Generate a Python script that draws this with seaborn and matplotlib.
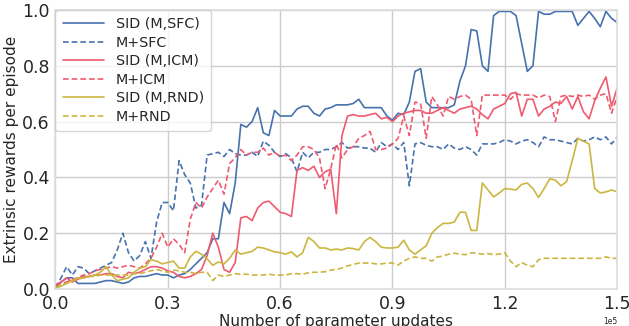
import numpy as np
import pandas as pd
import matplotlib
matplotlib.use("Agg")
import matplotlib.pyplot as plt
import seaborn as sns

# Evaluation every 1500 parameter updates, 0 .. 150000
updates = np.arange(0, 150001, 1500)

sid_sfc = [0.0, 0.025, 0.04, 0.04, 0.02, 0.02, 0.02, 0.02, 0.025, 0.03,
           0.03, 0.025, 0.02, 0.025, 0.04, 0.045, 0.045, 0.05, 0.055, 0.05,
           0.05, 0.04, 0.05, 0.055, 0.07, 0.09, 0.11, 0.13, 0.18, 0.18,
           0.31, 0.27, 0.38, 0.59, 0.58, 0.60, 0.65, 0.56, 0.55, 0.64,
           0.62, 0.62, 0.62, 0.645, 0.655, 0.655, 0.63, 0.62, 0.645, 0.65,
           0.66, 0.66, 0.66, 0.665, 0.68, 0.65, 0.65, 0.65, 0.65, 0.62,
           0.605, 0.63, 0.625, 0.67, 0.78, 0.79, 0.67, 0.65, 0.65, 0.65,
           0.65, 0.66, 0.745, 0.80, 0.93, 0.925, 0.80, 0.78, 0.98, 0.995,
           0.995, 0.995, 0.98, 0.88, 0.78, 0.80, 0.995, 0.985, 0.985, 0.995,
           0.995, 0.995, 0.995, 0.945, 0.97, 0.995, 0.97, 0.94, 0.995, 0.97,
           0.955]

m_sfc = [0.005, 0.04, 0.08, 0.05, 0.08, 0.075, 0.055, 0.065, 0.075, 0.085,
         0.095, 0.14, 0.20, 0.13, 0.10, 0.12, 0.17, 0.11, 0.24, 0.31,
         0.31, 0.28, 0.46, 0.41, 0.38, 0.29, 0.30, 0.48, 0.485, 0.49,
         0.475, 0.50, 0.485, 0.48, 0.48, 0.49, 0.475, 0.53, 0.515, 0.49,
         0.475, 0.485, 0.47, 0.42, 0.49, 0.47, 0.49, 0.49, 0.50, 0.50,
         0.51, 0.525, 0.505, 0.51, 0.51, 0.505, 0.505, 0.49, 0.525, 0.51,
         0.52, 0.50, 0.525, 0.37, 0.52, 0.525, 0.515, 0.51, 0.51, 0.50,
         0.52, 0.505, 0.50, 0.51, 0.50, 0.48, 0.52, 0.52, 0.52, 0.525,
         0.535, 0.53, 0.52, 0.53, 0.535, 0.525, 0.51, 0.545, 0.535, 0.535,
         0.53, 0.525, 0.52, 0.54, 0.53, 0.535, 0.545, 0.535, 0.545, 0.52,
         0.545]

sid_icm = [0.015, 0.025, 0.04, 0.025, 0.035, 0.045, 0.045, 0.05, 0.05, 0.055,
           0.055, 0.045, 0.04, 0.06, 0.055, 0.06, 0.07, 0.08, 0.08, 0.075,
           0.065, 0.06, 0.045, 0.04, 0.045, 0.055, 0.07, 0.12, 0.20, 0.15,
           0.07, 0.06, 0.095, 0.255, 0.26, 0.245, 0.29, 0.31, 0.315, 0.295,
           0.275, 0.27, 0.26, 0.425, 0.435, 0.425, 0.44, 0.40, 0.42, 0.43,
           0.27, 0.55, 0.62, 0.625, 0.62, 0.62, 0.625, 0.63, 0.61, 0.615,
           0.60, 0.62, 0.63, 0.635, 0.64, 0.64, 0.63, 0.63, 0.64, 0.65,
           0.64, 0.63, 0.645, 0.65, 0.655, 0.645, 0.625, 0.61, 0.645, 0.655,
           0.665, 0.70, 0.705, 0.62, 0.68, 0.68, 0.62, 0.645, 0.655, 0.67,
           0.665, 0.69, 0.645, 0.69, 0.635, 0.61, 0.675, 0.72, 0.76, 0.655,
           0.72]

m_icm = [0.015, 0.02, 0.025, 0.035, 0.04, 0.05, 0.055, 0.065, 0.07, 0.075,
         0.08, 0.075, 0.08, 0.085, 0.08, 0.075, 0.09, 0.11, 0.15, 0.20,
         0.15, 0.18, 0.16, 0.13, 0.25, 0.31, 0.29, 0.33, 0.36, 0.39,
         0.34, 0.45, 0.47, 0.50, 0.48, 0.49, 0.49, 0.505, 0.48, 0.49,
         0.475, 0.48, 0.46, 0.48, 0.51, 0.51, 0.50, 0.47, 0.36, 0.43,
         0.52, 0.47, 0.50, 0.51, 0.54, 0.55, 0.565, 0.50, 0.50, 0.505,
         0.52, 0.54, 0.62, 0.55, 0.67, 0.665, 0.54, 0.69, 0.66, 0.62,
         0.69, 0.68, 0.69, 0.695, 0.68, 0.55, 0.695, 0.695, 0.695, 0.695,
         0.695, 0.68, 0.70, 0.695, 0.695, 0.695, 0.685, 0.695, 0.69, 0.60,
         0.69, 0.695, 0.69, 0.695, 0.69, 0.695, 0.68, 0.695, 0.70, 0.63,
         0.69]

sid_rnd = [0.003, 0.01, 0.02, 0.03, 0.04, 0.04, 0.045, 0.05, 0.06, 0.08,
           0.05, 0.03, 0.035, 0.04, 0.06, 0.075, 0.08, 0.105, 0.10, 0.09,
           0.095, 0.10, 0.075, 0.075, 0.115, 0.135, 0.125, 0.108, 0.085, 0.097,
           0.09, 0.11, 0.14, 0.125, 0.13, 0.135, 0.15, 0.147, 0.14, 0.133,
           0.13, 0.125, 0.133, 0.115, 0.13, 0.185, 0.17, 0.147, 0.147, 0.14,
           0.143, 0.14, 0.147, 0.145, 0.14, 0.17, 0.185, 0.17, 0.15, 0.147,
           0.147, 0.15, 0.175, 0.14, 0.125, 0.14, 0.155, 0.20, 0.22, 0.235,
           0.235, 0.24, 0.275, 0.275, 0.21, 0.21, 0.38, 0.355, 0.33, 0.344,
           0.36, 0.358, 0.355, 0.375, 0.38, 0.36, 0.328, 0.36, 0.395, 0.39,
           0.37, 0.385, 0.46, 0.54, 0.53, 0.52, 0.36, 0.344, 0.348, 0.355,
           0.348]

m_rnd = [0.005, 0.015, 0.02, 0.03, 0.035, 0.04, 0.045, 0.045, 0.05, 0.05,
         0.05, 0.05, 0.05, 0.05, 0.055, 0.055, 0.06, 0.065, 0.07, 0.065,
         0.06, 0.068, 0.065, 0.06, 0.06, 0.055, 0.06, 0.06, 0.03, 0.05,
         0.045, 0.05, 0.055, 0.053, 0.053, 0.05, 0.05, 0.05, 0.053, 0.05,
         0.05, 0.05, 0.055, 0.055, 0.053, 0.058, 0.06, 0.06, 0.062, 0.068,
         0.07, 0.075, 0.083, 0.088, 0.093, 0.093, 0.093, 0.09, 0.09, 0.093,
         0.093, 0.086, 0.10, 0.11, 0.115, 0.11, 0.11, 0.10, 0.115, 0.118,
         0.125, 0.128, 0.125, 0.123, 0.13, 0.128, 0.125, 0.127, 0.123, 0.125,
         0.13, 0.10, 0.08, 0.095, 0.085, 0.08, 0.105, 0.11, 0.11, 0.11,
         0.11, 0.11, 0.11, 0.11, 0.11, 0.11, 0.11, 0.11, 0.115, 0.11,
         0.11]

methods = ["SID (M,SFC)", "M+SFC", "SID (M,ICM)", "M+ICM", "SID (M,RND)", "M+RND"]
series = [sid_sfc, m_sfc, sid_icm, m_icm, sid_rnd, m_rnd]

blue, red, yellow = "#4672ad", "#ef5a6f", "#cbb63f"
palette = dict(zip(methods, [blue, blue, red, red, yellow, yellow]))
dashes = {m: ("" if m.startswith("SID") else (3.4, 1.8)) for m in methods}

df = pd.concat(
    [pd.DataFrame({"updates": updates, "reward": vals, "method": name})
     for name, vals in zip(methods, series)],
    ignore_index=True,
)

sns.set_theme(style="whitegrid")
plt.rcParams["font.family"] = ["DejaVu Sans"]

fig = plt.figure(figsize=(6.29, 3.26), dpi=100)
ax = fig.add_axes([0.0882, 0.1135, 0.893, 0.8558])

sns.lineplot(data=df, x="updates", y="reward", hue="method", style="method",
             hue_order=methods, style_order=methods, palette=palette,
             dashes=dashes, estimator=None, linewidth=1.2, ax=ax)

ax.set_xlim(0, 150000)
ax.set_ylim(0, 1.0)
ax.set_xticks(np.arange(0, 150001, 30000))
ax.set_yticks(np.arange(0, 1.01, 0.2))
ax.ticklabel_format(style="sci", axis="x", scilimits=(0, 0))
ax.xaxis.get_offset_text().set_fontsize(5.5)
ax.tick_params(axis="x", labelsize=12.5, length=0, pad=4)
ax.tick_params(axis="y", labelsize=12.5, length=0, pad=4)
ax.set_xlabel("Number of parameter updates", fontsize=11, labelpad=1)
ax.set_ylabel("Extrinsic rewards per episode", fontsize=11, labelpad=2.5)

for s in ax.spines.values():
    s.set_color("#dddddd")
    s.set_linewidth(1.2)

ax.legend(loc="upper left", fontsize=10.3, frameon=True, handlelength=2.9,
          borderaxespad=0.0, labelspacing=0.32, handletextpad=0.8,
          borderpad=0.5)

fig.savefig("out.png", dpi=100)
